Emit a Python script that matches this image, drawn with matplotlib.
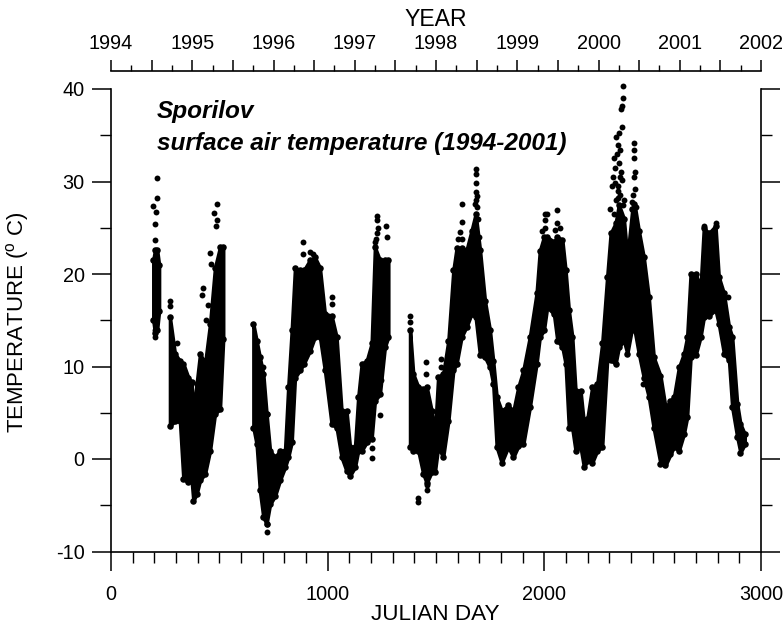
import matplotlib
matplotlib.use('Agg')
import matplotlib.pyplot as plt
from matplotlib.ticker import MultipleLocator, FixedLocator

plt.rcParams['font.family'] = ['Liberation Sans', 'DejaVu Sans']
plt.rcParams['mathtext.fontset'] = 'custom'
plt.rcParams['mathtext.rm'] = 'Liberation Sans'
plt.rcParams['axes.unicode_minus'] = False

# Dense part of the cloud: day, lowest and highest temperature
days_1994 = [195, 203, 213, 222]
low_1994 = [15.0, 13.6, 14.0, 16.0]
high_1994 = [21.5, 22.6, 22.6, 21.0]

days_1995 = [272, 295, 318, 334, 357, 372, 380, 395, 411, 434, 457, 480, 503, 518]
low_1995 = [3.6, 4.1, 4.1, -2.2, -2.5, -2.3, -4.5, -3.8, -2.3, -1.6, 0.9, 4.9, 5.4, 13.0]
high_1995 = [15.3, 11.4, 10.6, 10.3, 8.8, 8.3, 5.0, 8.1, 11.4, 10.3, 14.6, 20.7, 22.9, 22.9]

days_1996 = [657, 672, 687, 703, 718, 734, 757, 780, 803, 818, 834, 849, 872, 890, 918, 941,
             964, 987, 1018, 1041, 1064, 1087, 1103, 1126, 1141, 1157, 1180, 1203, 1218,
             1241, 1264, 1280]
low_1996 = [3.4, 1.6, -3.4, -6.3, -7.0, -4.9, -4.0, -2.3, -0.9, 0.2, 1.8, 8.8, 9.6, 10.3, 11.7,
            13.2, 13.2, 9.6, 3.8, 3.4, 0.2, -1.3, -1.8, -0.9, 0.9, 0.9, 1.8, 2.2, 6.3, 7.0,
            12.1, 13.2]
high_1996 = [14.6, 12.8, 11.0, 9.2, 4.9, 0.9, 0.2, 0.9, 0.9, 7.8, 13.9, 20.6, 20.4, 20.4, 21.5,
             21.8, 20.7, 15.7, 15.5, 13.2, 5.2, 5.2, 1.3, 1.3, 6.7, 10.3, 10.6, 12.5, 22.9,
             21.5, 21.5, 21.5]

days_1998 = [1380, 1395, 1418, 1441, 1457, 1480, 1495, 1510, 1533, 1557, 1580, 1595, 1618, 1641,
             1664, 1683, 1703, 1726, 1749, 1764, 1780, 1803, 1833, 1857, 1880, 1903, 1933,
             1964, 1979, 1998, 2013, 2044, 2060, 2083, 2098, 2113, 2129, 2144, 2167, 2183,
             2198, 2221, 2244, 2267, 2290, 2306, 2329, 2344, 2367, 2383, 2406, 2416, 2436,
             2459, 2482, 2505, 2536, 2559, 2582, 2598, 2621, 2644, 2659, 2675, 2698, 2721,
             2736, 2759, 2790, 2805, 2829, 2852, 2867, 2890, 2905, 2925]
low_1998 = [1.3, 0.9, 0.9, -1.6, -2.6, -1.4, -1.4, 1.3, 0.2, 4.1, 9.6, 10.3, 13.2, 14.3, 15.7, 15.3,
            11.2, 11.0, 9.9, 8.1, 1.3, -0.4, 1.3, 0.2, 1.4, 1.6, 5.6, 10.3, 13.2, 13.9, 16.4,
            15.7, 12.8, 12.1, 10.3, 3.4, 3.3, 0.9, 1.3, -0.9, -0.2, -0.4, 0.9, 1.3, 10.7, 10.7,
            10.3, 12.1, 12.8, 11.4, 14.3, 14.0, 11.4, 8.8, 6.7, 3.3, -0.5, -0.7, 0.5, 1.3, 0.9,
            2.7, 4.5, 11.0, 11.2, 13.2, 15.3, 15.5, 16.1, 14.6, 11.4, 10.7, 5.6, 2.4, 0.7, 1.6]
high_1998 = [14.0, 9.2, 7.8, 7.6, 7.8, 5.2, 2.7, 8.9, 9.2, 12.8, 20.4, 22.8, 22.8, 22.6, 24.7, 26.5,
             22.6, 17.1, 13.9, 10.6, 6.7, 5.2, 5.8, 5.2, 7.8, 9.6, 13.2, 17.9, 22.5, 24.0, 24.0,
             23.5, 24.0, 23.7, 20.4, 16.1, 13.2, 7.4, 7.4, 3.8, 4.3, 7.8, 8.1, 12.5, 19.7, 24.4,
             25.5, 27.5, 26.0, 21.8, 27.0, 27.6, 24.7, 21.8, 17.5, 11.0, 9.0, 5.6, 6.3, 6.7, 9.9,
             11.4, 13.2, 20.0, 20.0, 18.6, 25.0, 24.4, 25.2, 19.7, 17.9, 14.3, 13.2, 6.0, 3.8, 2.7]

band_days = [days_1994, days_1995, days_1996, days_1998]
band_low = [low_1994, low_1995, low_1996, low_1998]
band_high = [high_1994, high_1995, high_1996, high_1998]

# Single points that stand clear of the cloud
spot_days = [211, 211, 195, 208, 203, 203, 203, 203,
             272, 272, 306, 418, 426, 449, 438, 457, 460, 487, 475, 487, 484,
             703, 718, 718, 718, 884, 884, 918, 930, 1018, 1018, 1206, 1206,
             1229, 1229, 1226, 1218, 1267, 1272, 1241, 1248, 1222, 1232,
             1380, 1380, 1418, 1418, 1453, 1453, 1457, 1460, 1523, 1523,
             1620, 1620, 1620, 1600, 1610, 1683, 1683, 1683, 1683, 1683, 1690, 1700, 1678, 1688, 1695,
             2003, 2003, 2003, 2013, 2060, 2060, 1990, 2050, 2070,
             2363, 2363, 2360, 2355, 2360, 2344, 2330, 2340, 2350, 2320, 2325, 2350,
             2335, 2345, 2355, 2310, 2318, 2328, 2338, 2348, 2358, 2368, 2305, 2322, 2342, 2362,
             2416, 2416, 2416, 2418, 2416, 2456, 2420, 2410, 2339, 2330, 2405, 2412, 2425,
             2736, 2790, 2640, 2850]
spot_temps = [30.4, 28.2, 27.4, 26.7, 25.4, 23.7, 13.2, 13.9,
              17.1, 16.5, 12.5, 17.7, 18.5, 16.6, 15.0, 22.3, 21.1, 27.6, 26.6, 25.8, 25.2,
              10.0, 4.9, -7.9, -7.0, 23.5, 22.2, 22.4, 22.2, 17.5, 16.8, 1.2, 0.1,
              26.3, 25.8, 24.4, 23.5, 25.2, 24.0, 4.8, 8.5, 23.8, 25.0,
              15.5, 14.8, -4.2, -4.6, 10.5, 9.2, -3.4, -2.8, 10.8, 10.0,
              27.6, 25.6, 23.8, 23.8, 24.5, 31.4, 30.8, 29.8, 28.9, 28.0, 27.2, 24.0, 27.6, 28.4, 26.0,
              26.5, 25.8, 25.0, 26.5, 26.9, 25.5, 24.6, 24.8, 25.0,
              40.3, 39.0, 38.2, 37.8, 35.9, 35.2, 34.8, 34.0, 33.4, 32.5, 31.5, 30.5,
              33.0, 32.0, 31.0, 29.5, 30.5, 29.8, 29.0, 28.5, 30.2, 28.0, 27.0, 26.5, 28.2, 27.5,
              34.2, 33.4, 32.5, 31.0, 30.5, 8.1, 29.2, 28.5, 29.5, 28.0, 27.8, 26.5, 27.2,
              25.2, 25.5, 10.5, 17.5]

x_major = [0, 1000, 2000, 3000]
y_major = [-10, 0, 10, 20, 30, 40]
years = [1994, 1995, 1996, 1997, 1998, 1999, 2000, 2001, 2002]
half_years = [1994, 1994.5, 1995, 1995.5, 1996, 1996.5, 1997, 1997.5, 1998, 1998.5,
              1999, 1999.5, 2000, 2000.5, 2001, 2001.5, 2002]
half_year_labels = [str(int(y)) if y in years else '' for y in half_years]

W, H = 784, 625
fig = plt.figure(figsize=(W / 100, H / 100), dpi=100, facecolor='white')
ax = fig.add_axes([111 / W, 1 - 551.5 / H, 650 / W, 462.5 / H])

# Cloud of measurements, with dots on the band edges so the outline stays lumpy
for d, lo, hi in zip(band_days, band_low, band_high):
    ax.fill_between(d, lo, hi, facecolor='black', edgecolor='black', linewidth=2.5,
                    joinstyle='round', clip_on=False, zorder=2)
    ax.scatter(d, lo, s=22, color='black', linewidths=0, zorder=3)
    ax.scatter(d, hi, s=22, color='black', linewidths=0, zorder=3)
ax.scatter(spot_days, spot_temps, s=18, color='black', linewidths=0, zorder=3, clip_on=False)

ax.set_xlim(0, 3000)
ax.set_ylim(-10, 40)
ax.spines['top'].set_visible(False)
for s in ['left', 'right', 'bottom']:
    ax.spines[s].set_linewidth(1.2)
ax.xaxis.set_major_locator(FixedLocator(x_major))
ax.xaxis.set_minor_locator(MultipleLocator(100))
ax.yaxis.set_major_locator(FixedLocator(y_major))
ax.yaxis.set_minor_locator(MultipleLocator(5))
ax.yaxis.set_ticks_position('both')
ax.tick_params(axis='x', which='major', length=14, width=1.1, labelsize=14.3, pad=10)
ax.tick_params(axis='x', which='minor', length=8, width=1.0)
ax.tick_params(axis='y', which='major', direction='out', length=14, width=1.1, labelsize=14.3, pad=5)
ax.tick_params(axis='y', which='minor', direction='out', length=8, width=1.0)

# Calendar scale on top, a separate axis above the plot
ax_top = fig.add_axes([111 / W, 1 - 71 / H, 650 / W, 0.0005])
ax_top.patch.set_visible(False)
for s in ['left', 'right', 'bottom']:
    ax_top.spines[s].set_visible(False)
ax_top.spines['top'].set_linewidth(1.2)
ax_top.set_xlim(1994, 2002)
ax_top.set_yticks([])
ax_top.xaxis.set_ticks_position('top')
ax_top.xaxis.set_major_locator(FixedLocator(half_years))
ax_top.xaxis.set_ticklabels(half_year_labels)
ax_top.xaxis.set_minor_locator(MultipleLocator(0.25))
ax_top.tick_params(axis='x', which='major', length=8, width=1.1, labelsize=14.3, pad=5)
ax_top.tick_params(axis='x', which='minor', length=4.5, width=1.0)

fig.text(436 / W, 1 - 20 / H, 'YEAR', fontsize=16.6, ha='center', va='center')
fig.text(435 / W, 1 - 614 / H, 'JULIAN DAY', fontsize=16.2, ha='center', va='center')
fig.text(18 / W, 1 - 322 / H, 'TEMPERATURE ($^{\\mathrm{o}}$ C)', fontsize=16,
         rotation=90, ha='center', va='center')
fig.text(157 / W, 1 - 118 / H, 'Sporilov', fontsize=17.6, fontweight='bold', style='italic')
fig.text(157 / W, 1 - 150 / H, 'surface air temperature (1994-2001)', fontsize=17.6,
         fontweight='bold', style='italic')

plt.savefig('out.png', dpi=100)
